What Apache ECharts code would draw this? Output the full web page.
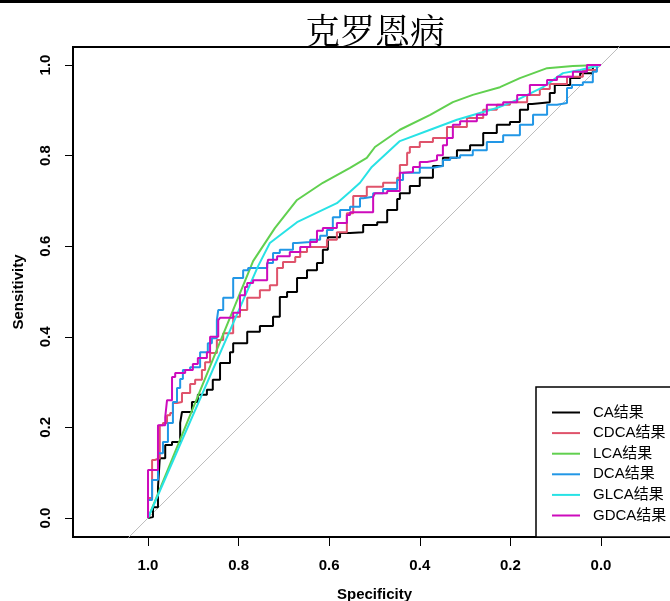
<!DOCTYPE html>
<html>
<head>
<meta charset="utf-8">
<script src="https://cdn.jsdelivr.net/npm/echarts@6/dist/echarts.min.js"></script>
<style>
  html, body { margin: 0; padding: 0; background: #fff; }
  #main { width: 670px; height: 601px; }
</style>
</head>
<body>
<div id="main"></div>
<script>
// tick step for both axes (ticks run 0.0 .. 1.0)
var tickStep = 0.2;

var seriesNames = ['CA结果', 'CDCA结果', 'LCA结果', 'DCA结果', 'GLCA结果', 'GDCA结果'];
var seriesColors = ['#000000', '#DF536B', '#61D04F', '#2297E6', '#28E2E5', '#CD0BBC'];

// [specificity, sensitivity]
var caPoints = [[1,0],[0.989,0.002],[0.978,0.024],[0.974,0.068],[0.962,0.132],[0.947,0.161],[0.929,0.168],
  [0.925,0.210],[0.903,0.234],[0.890,0.256],[0.870,0.272],[0.857,0.283],[0.841,0.305],[0.819,0.342],
  [0.812,0.366],[0.781,0.386],[0.753,0.411],[0.724,0.424],[0.709,0.444],[0.693,0.488],[0.671,0.499],
  [0.649,0.530],[0.627,0.547],[0.614,0.563],[0.603,0.592],[0.576,0.620],[0.554,0.629],[0.525,0.631],
  [0.494,0.647],[0.472,0.653],[0.450,0.680],[0.444,0.704],[0.422,0.717],[0.400,0.733],[0.371,0.751],
  [0.349,0.777],[0.318,0.795],[0.289,0.812],[0.260,0.823],[0.230,0.850],[0.201,0.868],[0.179,0.874],
  [0.161,0.901],[0.152,0.914],[0.113,0.918],[0.102,0.938],[0.068,0.956],[0.046,0.971],[0.018,0.982],[0,1]];

var cdcaPoints = [[1,0],[1,0.044],[0.991,0.044],[0.985,0.128],[0.974,0.132],[0.967,0.205],[0.958,0.210],
  [0.951,0.227],[0.945,0.232],[0.936,0.254],[0.925,0.256],[0.907,0.276],[0.896,0.296],[0.881,0.305],
  [0.874,0.327],[0.863,0.344],[0.848,0.364],[0.834,0.393],[0.812,0.408],[0.797,0.444],[0.781,0.459],
  [0.753,0.486],[0.731,0.503],[0.715,0.514],[0.702,0.552],[0.675,0.565],[0.664,0.576],[0.649,0.587],
  [0.605,0.598],[0.583,0.614],[0.561,0.631],[0.547,0.673],[0.517,0.711],[0.481,0.731],[0.450,0.740],
  [0.444,0.751],[0.428,0.779],[0.422,0.806],[0.400,0.819],[0.371,0.830],[0.340,0.839],[0.296,0.863],
  [0.260,0.883],[0.230,0.901],[0.201,0.912],[0.163,0.918],[0.135,0.934],[0.113,0.947],[0.075,0.958],
  [0.040,0.974],[0.009,0.989],[0,1]];

var lcaPoints = [[1,0],[0.768,0.567],[0.720,0.640],[0.671,0.702],[0.614,0.740],[0.554,0.773],[0.517,0.795],
  [0.499,0.819],[0.444,0.857],[0.377,0.890],[0.327,0.918],[0.283,0.934],[0.223,0.951],[0.179,0.971],
  [0.119,0.993],[0.062,0.998],[0,1]];

var dcaPoints = [[1,0],[0.991,0.040],[0.978,0.084],[0.967,0.143],[0.956,0.168],[0.945,0.210],[0.936,0.256],
  [0.929,0.287],[0.923,0.307],[0.907,0.327],[0.885,0.333],[0.868,0.366],[0.859,0.386],[0.848,0.397],
  [0.845,0.437],[0.834,0.459],[0.834,0.481],[0.812,0.486],[0.812,0.525],[0.790,0.530],[0.779,0.547],
  [0.737,0.552],[0.724,0.563],[0.709,0.585],[0.680,0.592],[0.671,0.607],[0.642,0.609],[0.620,0.614],
  [0.605,0.623],[0.592,0.636],[0.576,0.664],[0.554,0.680],[0.532,0.687],[0.525,0.706],[0.503,0.709],
  [0.481,0.717],[0.450,0.726],[0.437,0.746],[0.400,0.762],[0.371,0.773],[0.349,0.777],[0.333,0.790],
  [0.311,0.795],[0.283,0.801],[0.252,0.812],[0.216,0.830],[0.179,0.845],[0.150,0.868],[0.119,0.890],
  [0.097,0.912],[0.075,0.916],[0.064,0.949],[0.040,0.956],[0.018,0.962],[0.009,0.985],[0,1]];

var glcaPoints = [[1,0],[0.757,0.556],[0.731,0.607],[0.671,0.653],[0.583,0.695],[0.554,0.720],[0.532,0.740],
  [0.506,0.775],[0.444,0.832],[0.377,0.857],[0.318,0.879],[0.230,0.905],[0.185,0.923],[0.128,0.951],
  [0.084,0.982],[0.046,0.989],[0,1]];

var gdcaPoints = [[1,0],[0.978,0.106],[0.962,0.205],[0.958,0.223],[0.947,0.260],[0.940,0.311],[0.918,0.320],
  [0.901,0.327],[0.890,0.340],[0.870,0.353],[0.863,0.366],[0.845,0.400],[0.841,0.437],[0.812,0.442],
  [0.797,0.453],[0.786,0.492],[0.781,0.510],[0.768,0.519],[0.737,0.525],[0.735,0.559],[0.715,0.570],
  [0.687,0.578],[0.664,0.587],[0.642,0.598],[0.627,0.609],[0.614,0.634],[0.583,0.640],[0.561,0.651],
  [0.554,0.669],[0.503,0.675],[0.499,0.709],[0.472,0.717],[0.444,0.722],[0.437,0.762],[0.415,0.764],
  [0.400,0.775],[0.384,0.786],[0.362,0.790],[0.349,0.801],[0.340,0.823],[0.327,0.839],[0.311,0.868],
  [0.274,0.876],[0.252,0.890],[0.216,0.912],[0.185,0.918],[0.157,0.934],[0.119,0.956],[0.097,0.967],
  [0.062,0.974],[0.031,0.985],[0,1]];

var curves = [caPoints, cdcaPoints, lcaPoints, dcaPoints, glcaPoints, gdcaPoints];
var stepped = [true, true, false, true, false, true];

// reference diagonal
var diagPoints = [[1.2, -0.2], [-0.2, 1.2]];

// axis extents (R adds 4% padding, x widened for the square aspect)
var specMin = -0.1656, specMax = 1.1656;
var sensMin = -0.0419, sensMax = 1.0397;

var chartDom = document.getElementById('main');
var myChart = echarts.init(chartDom);

var labelFont = 'Liberation Sans, Arial, sans-serif';

var series = [
  {
    name: 'diag',
    type: 'line',
    data: diagPoints,
    symbol: 'none',
    silent: true,
    clip: true,
    lineStyle: { color: '#bdbdbd', width: 1 }
  }
];
curves.forEach(function (pts, i) {
  series.push({
    name: seriesNames[i],
    type: 'line',
    data: pts,
    step: stepped[i] ? 'start' : false,
    symbol: 'none',
    clip: true,
    color: seriesColors[i],
    lineStyle: { color: seriesColors[i], width: 2 }
  });
});

var labelStyle = {
  fontSize: 15,
  fontWeight: 'bold',
  color: '#000',
  fontFamily: labelFont,
  formatter: function (v) { return v.toFixed(1); }
};

var option = {
  animation: false,
  backgroundColor: '#fff',
  title: {
    text: '克罗恩病',
    left: 370,
    top: 8,
    textAlign: 'center',
    textStyle: {
      fontSize: 35,
      fontWeight: 'normal',
      color: '#000',
      fontFamily: 'Noto Serif CJK SC, serif'
    }
  },
  grid: [
    // main plot box
    {
      left: 73, top: 47, width: 603, height: 490,
      outerBoundsMode: 'none',
      show: true,
      borderColor: '#000',
      borderWidth: 2
    },
    // helper grid spanning exactly 0..1 on both axes, only for ticks and labels
    {
      left: 148, top: 65, width: 453, height: 453,
      outerBoundsMode: 'none',
      show: false
    }
  ],
  xAxis: [
    {
      gridIndex: 0,
      type: 'value',
      inverse: true,
      min: specMin,
      max: specMax,
      name: 'Specificity',
      nameLocation: 'middle',
      nameGap: 50,
      nameTextStyle: { fontSize: 15, fontWeight: 'bold', color: '#000', fontFamily: labelFont },
      axisLine: { show: false, onZero: false },
      splitLine: { show: false },
      axisTick: { show: false },
      axisLabel: { show: false }
    },
    {
      gridIndex: 1,
      type: 'value',
      inverse: true,
      min: 0,
      max: 1,
      interval: tickStep,
      position: 'bottom',
      offset: 19,
      axisLine: { show: false, onZero: false },
      splitLine: { show: false },
      axisTick: { show: true, inside: false, length: 9, lineStyle: { color: '#000', width: 1 } },
      axisLabel: Object.assign({ margin: 21 }, labelStyle)
    }
  ],
  yAxis: [
    {
      gridIndex: 0,
      type: 'value',
      min: sensMin,
      max: sensMax,
      name: 'Sensitivity',
      nameLocation: 'middle',
      nameGap: 47,
      nameTextStyle: { fontSize: 15, fontWeight: 'bold', color: '#000', fontFamily: labelFont },
      axisLine: { show: false, onZero: false },
      splitLine: { show: false },
      axisTick: { show: false },
      axisLabel: { show: false }
    },
    {
      gridIndex: 1,
      type: 'value',
      min: 0,
      max: 1,
      interval: tickStep,
      position: 'left',
      offset: 75,
      axisLine: { show: false, onZero: false },
      splitLine: { show: false },
      axisTick: { show: true, inside: false, length: 8, lineStyle: { color: '#000', width: 1 } },
      axisLabel: Object.assign({ margin: 20, rotate: 90 }, labelStyle)
    }
  ],
  legend: {
    data: seriesNames,
    orient: 'vertical',
    left: 536,
    top: 387,
    padding: [18, 40, 14, 16],
    itemWidth: 28,
    itemHeight: 2,
    itemGap: 5.6,
    icon: 'rect',
    borderColor: '#000',
    borderWidth: 1.5,
    backgroundColor: '#fff',
    selectedMode: false,
    textStyle: {
      fontSize: 15,
      lineHeight: 15,
      color: '#000',
      fontFamily: 'Liberation Sans, Arial, Noto Sans CJK SC, sans-serif',
      padding: [0, 0, 0, 8]
    }
  },
  graphic: [
    {
      type: 'rect',
      shape: { x: 0, y: 0, width: 670, height: 3 },
      style: { fill: '#000' },
      silent: true
    }
  ],
  series: series
};

option && myChart.setOption(option);
</script>
</body>
</html>
